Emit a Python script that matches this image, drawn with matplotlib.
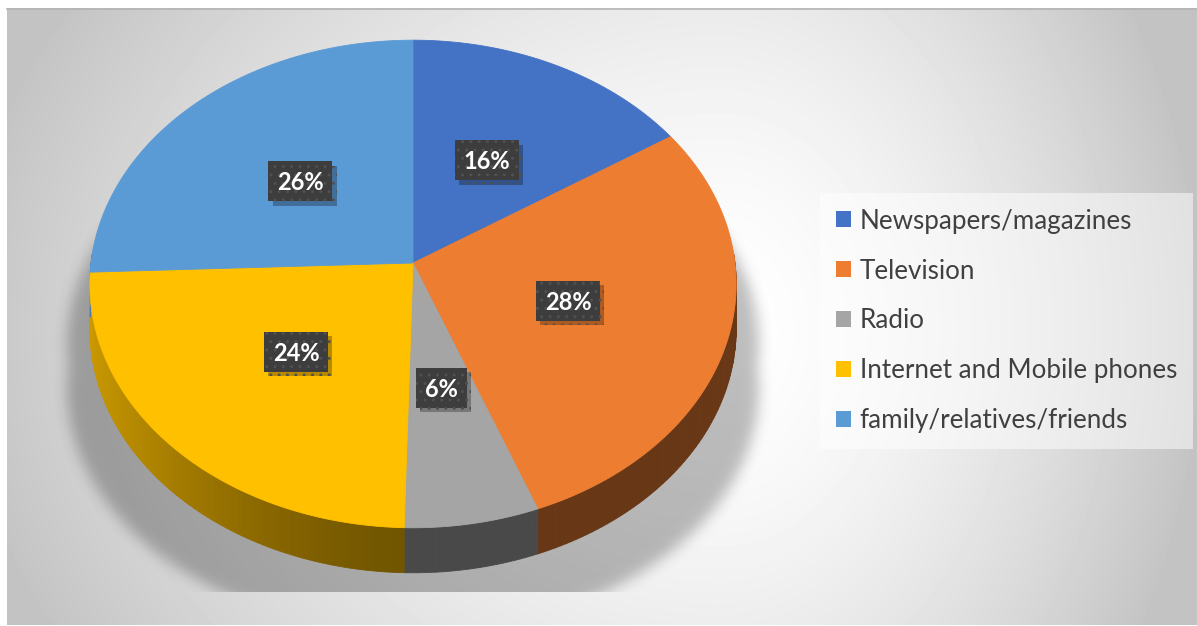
import numpy as np
import matplotlib.pyplot as plt
from matplotlib.patches import Polygon, Rectangle
from matplotlib.path import Path
from matplotlib.colors import to_rgb
from matplotlib import patheffects as pe

plt.rcParams['font.family'] = ['Lato', 'DejaVu Sans']

sources = ['Newspapers/magazines', 'Television', 'Radio',
           'Internet and Mobile phones', 'family/relatives/friends']
shares = [15.8, 28.4, 6.2, 24.0, 25.6]
colors = ['#4472C4', '#ED7D31', '#A5A5A5', '#FFC000', '#5B9BD5']

W, H = 1197, 626
CX, CY = 413, 263      # pie centre, pixels
RX, RY = 322, 242      # radii of the top face
PERSP = 0.086          # foreshortening of the back half
DEPTH = 45             # thickness of the disc
FLOOR = 592            # bottom of the plot area


def project(theta, r=1.0):
    # theta in degrees, clockwise from 12 o'clock
    t = np.radians(theta)
    u, v = r * np.sin(t), r * np.cos(t)
    d = 1 + PERSP * v
    return CX + RX * u / d, CY - RY * v / d


def side_shade(theta):
    s = np.clip(-np.sin(np.radians(theta)), 0, 1)
    return 0.44 + 0.36 * s ** 1.5


def blur(a, sigma):
    n = int(3 * sigma)
    k = np.exp(-0.5 * (np.arange(-n, n + 1) / sigma) ** 2)
    k /= k.sum()
    a = np.apply_along_axis(lambda r: np.convolve(r, k, mode='same'), 0, a)
    a = np.apply_along_axis(lambda r: np.convolve(r, k, mode='same'), 1, a)
    return a


fig = plt.figure(figsize=(W / 100, H / 100), dpi=100)
ax = fig.add_axes([0, 0, 1, 1])

# background gradient of the chart area
yy, xx = np.mgrid[0:H, 0:W] + 0.5
sx = np.where(xx > 720, 480, 760)
dist = np.hypot((xx - 720) / sx, (yy - 330) / 620)
bg = 255 - 59 * np.clip(dist, 0, 1) ** 1.6
ax.imshow(bg[8:625, 7:], cmap='gray', vmin=0, vmax=255, aspect='auto',
          extent=(7, W, 625, 8), zorder=0, interpolation='bilinear')
ax.plot([7, W], [8.5, 8.5], color='#b4b4b4', lw=1.2, zorder=1)

# soft shadow cast under the disc
ring = np.linspace(0, 360, 721)
rx, ry = project(ring)
pts = np.c_[xx.ravel(), yy.ravel()]
sh = np.zeros(H * W, dtype=bool)
for dy in (0, DEPTH):
    outline = np.c_[CX + (rx - CX) * 1.07, ry + dy + 60]
    sh |= Path(outline).contains_points(pts)
sh = blur(sh.reshape(H, W).astype(float), 7)
sh[FLOOR:, :] = 0
sh[:, :7] = 0
shadow = np.zeros((H, W, 4))
shadow[..., 3] = 0.26 * sh
ax.imshow(shadow, aspect='auto', extent=(0, W, H, 0), zorder=1)

edges = np.concatenate([[0], np.cumsum(shares)]) / sum(shares) * 360

# side walls of the front half
for a0, a1, col in zip(edges[:-1], edges[1:], colors):
    lo, hi = max(a0, 88), min(a1, 272)
    if lo >= hi:
        continue
    ts = np.append(np.arange(lo, hi, 1.0), hi)
    for t0, t1 in zip(ts[:-1], ts[1:]):
        x0, y0 = project(t0)
        x1, y1 = project(t1)
        c = np.array(to_rgb(col)) * side_shade((t0 + t1) / 2)
        ax.add_patch(Polygon([(x0, y0), (x1, y1), (x1, y1 + DEPTH), (x0, y0 + DEPTH)],
                             closed=True, facecolor=c, edgecolor=c, lw=0.6, zorder=2))

# top face
for a0, a1, col in zip(edges[:-1], edges[1:], colors):
    ts = np.linspace(a0, a1, max(int(a1 - a0), 2) + 1)
    px, py = project(ts)
    verts = [(CX, CY)] + list(zip(px, py))
    ax.add_patch(Polygon(verts, closed=True, facecolor=col, edgecolor=col,
                         lw=0.6, zorder=3))

# percentage labels in dark boxes
total = sum(shares)
for a0, a1, val in zip(edges[:-1], edges[1:], shares):
    lx, ly = project((a0 + a1) / 2, 0.5)
    label = f'{val / total * 100:.0f}%'
    bw, bh = 13 * len(label) + 25, 40
    box = Rectangle((lx - bw / 2, ly - bh / 2), bw, bh, facecolor='#3d3d3d',
                    edgecolor='#505050', hatch='..', lw=0, zorder=4)
    box.set_path_effects([pe.SimplePatchShadow(offset=(3, -3), shadow_rgbFace='black',
                                               alpha=0.28), pe.Normal()])
    ax.add_patch(box)
    ax.text(lx, ly + 9, label, color='white', fontsize=17, fontweight='bold',
            ha='center', va='baseline', zorder=5)

ax.set_xlim(0, W)
ax.set_ylim(H, 0)
ax.axis('off')

handles = [Rectangle((0, 0), 1, 1, facecolor=c) for c in colors]
leg = fig.legend(handles, sources, loc='upper left',
                 bbox_to_anchor=(820 / W, 1 - 193 / H), frameon=True,
                 fontsize=18.7, labelcolor='#404040', handlelength=0.58,
                 handleheight=0.58, handletextpad=0.35, labelspacing=0.96,
                 borderpad=0.6, borderaxespad=0, fancybox=False,
                 facecolor='white', edgecolor='none', framealpha=0.5)

fig.savefig('out.png', dpi=100, facecolor='white')
